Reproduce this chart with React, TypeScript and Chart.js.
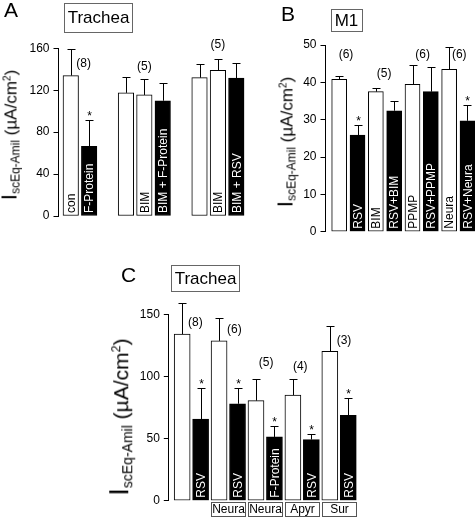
import React, { useEffect, useRef } from "react";
import { Chart, registerables } from "chart.js";

Chart.register(...registerables);

const FONT = "'Liberation Sans', Arial, Helvetica, sans-serif";

// ---------- Panel A (Trachea) ----------
const aLabels = ["con", "F-Protein", "", "", "BIM", "BIM + F-Protein", "", "", "BIM", "BIM + RSV"];
const aValues = [134, 66.5, null, 117.5, 115.5, 110, null, 132, 139, 131.5];
const aErrors = [25.5, 25.5, null, 15.5, 15.3, 17, null, 13, 11, 14.5];
const aTreated = [false, true, false, false, false, true, false, false, false, true];
const aSig = [false, true, false, false, false, false, false, false, false, false];
const aNText = ["(8)", "(5)", "(5)"];
const aNPos = [0.7, 4, 8];
const aNVal = [145, 142, 163];
const aTicks = [0, 40, 80, 120, 160];

// ---------- Panel B (M1) ----------
const bLabels = ["", "RSV", "BIM", "RSV+BIM", "PPMP", "RSV+PPMP", "Neura", "RSV+Neura"];
const bValues = [40.8, 25.9, 37.5, 32.4, 39.5, 37.5, 43.5, 29.7];
const bErrors = [1.0, 2.8, 1.0, 2.5, 5.1, 6.5, 6.0, 4.1];
const bTreated = [false, true, false, true, false, true, false, true];
const bSig = [false, true, false, false, false, false, false, true];
const bNText = ["(6)", "(5)", "(6)", "(6)"];
const bNPos = [0.37, 2.45, 4.55, 6.55];
const bNVal = [47.4, 42.3, 47.4, 47.4];
const bTicks = [0, 10, 20, 30, 40, 50];

// ---------- Panel C (Trachea) ----------
const cLabels = ["", "RSV", "", "RSV", "", "F-Protein", "", "RSV", "", "RSV"];
const cValues = [134, 65.7, 128.6, 78, 80.5, 51.3, 85, 49.2, 120.3, 68.6];
const cErrors = [25, 24.8, 18.2, 12.6, 17.3, 8.9, 13, 4.3, 20.5, 13.8];
const cTreated = [false, true, false, true, false, true, false, true, false, true];
const cSig = [false, true, false, true, false, true, false, true, false, true];
const cNText = ["(8)", "(6)", "(5)", "(4)", "(3)"];
const cNPos = [0.72, 2.83, 4.55, 6.4, 8.77];
const cNVal = [143, 137.5, 111, 108, 129];
const cGroupStart = [2, 4, 6, 8];
const cGroupLabels = ["Neura", "Neura", "Apyr", "Sur"];
const cTicks = [0, 50, 100, 150];

type PanelCfg = {
  labels: string[];
  values: (number | null)[];
  errors: (number | null)[];
  treated: boolean[];
  sig: boolean[];
  nText: string[];
  nPos: number[];
  nVal: number[];
  ticks: number[];
  groupStart?: number[];
  groupLabels?: string[];
  xMin: number;
  xMax: number;
  axisWidth: number;
  padding: { left: number; right: number; top: number; bottom: number };
  barThickness: number;
  labelSize: number;
};

const W = 475;
const H = 518;

function annotPlugin(p: PanelCfg) {
  return {
    id: "annot",
    afterDatasetsDraw(chart: any) {
      const { ctx } = chart;
      const x = chart.scales.x;
      const y = chart.scales.y;
      const y0 = y.getPixelForValue(0);
      ctx.save();
      ctx.strokeStyle = "#000";
      ctx.lineWidth = 1;
      p.values.forEach((v, i) => {
        if (v == null) return;
        const e = p.errors[i] || 0;
        const px = Math.round(x.getPixelForValue(i)) + 0.5;
        const py = y.getPixelForValue(v);
        const pe = Math.round(y.getPixelForValue(v + e)) + 0.5;
        ctx.beginPath();
        ctx.moveTo(px, py);
        ctx.lineTo(px, pe);
        ctx.moveTo(px - 4, pe);
        ctx.lineTo(px + 4, pe);
        ctx.stroke();
        if (p.sig[i]) {
          ctx.fillStyle = "#000";
          ctx.font = `12px ${FONT}`;
          ctx.textAlign = "center";
          ctx.textBaseline = "alphabetic";
          ctx.fillText("*", px, pe - 1);
        }
        const lab = p.labels[i];
        if (lab) {
          ctx.save();
          ctx.translate(x.getPixelForValue(i), y0 - 3);
          ctx.rotate(-Math.PI / 2);
          ctx.fillStyle = p.treated[i] ? "#fff" : "#000";
          ctx.font = `${p.labelSize}px ${FONT}`;
          ctx.textAlign = "left";
          ctx.textBaseline = "middle";
          ctx.fillText(lab, 0, 1);
          ctx.restore();
        }
      });
      ctx.fillStyle = "#000";
      ctx.font = `12px ${FONT}`;
      ctx.textAlign = "center";
      ctx.textBaseline = "middle";
      p.nText.forEach((t, k) => {
        ctx.fillText(t, x.getPixelForValue(p.nPos[k]), y.getPixelForValue(p.nVal[k]));
      });
      if (p.groupStart && p.groupLabels) {
        p.groupStart.forEach((s, k) => {
          const l = Math.round(x.getPixelForValue(s - 0.5)) + 1.5;
          const r = Math.round(x.getPixelForValue(s + 1.5)) - 1.5;
          const t = Math.round(y0) + 1.5;
          const b = H - 1.5;
          ctx.strokeStyle = "#555";
          ctx.strokeRect(l, t, r - l, b - t);
          ctx.fillStyle = "#000";
          ctx.font = `12px ${FONT}`;
          ctx.fillText(p.groupLabels![k], (l + r) / 2, (t + b) / 2 + 0.5);
        });
      }
      ctx.restore();
    },
  };
}

function makeChart(canvas: HTMLCanvasElement, p: PanelCfg) {
  const tickMax = p.ticks[p.ticks.length - 1];
  const step = p.ticks[1] - p.ticks[0];
  return new Chart(canvas, {
    type: "bar",
    data: {
      datasets: [
        {
          data: p.values.map((v, i) => ({ x: i, y: v })) as any,
          backgroundColor: p.treated.map((t) => (t ? "#000" : "#fff")),
          borderColor: "#000",
          borderWidth: 1,
          borderSkipped: false,
          barThickness: p.barThickness,
        },
      ],
    },
    options: {
      responsive: false,
      animation: false,
      devicePixelRatio: 1,
      layout: { padding: p.padding },
      plugins: { legend: { display: false }, tooltip: { enabled: false } },
      scales: {
        x: { type: "linear", min: p.xMin, max: p.xMax, display: false, offset: false, grid: { offset: false } },
        y: {
          min: 0,
          max: tickMax,
          afterFit: (s: any) => {
            s.width = p.axisWidth;
          },
          ticks: { stepSize: step, color: "#000", font: { family: FONT, size: 12 }, padding: 4 },
          grid: { drawOnChartArea: false, drawTicks: true, tickLength: 5, color: "#000", lineWidth: 1 },
          border: { display: true, color: "#000", width: 1 },
        },
      },
    } as any,
    plugins: [annotPlugin(p)],
  });
}

const panelA: PanelCfg = {
  labels: aLabels, values: aValues, errors: aErrors, treated: aTreated, sig: aSig,
  nText: aNText, nPos: aNPos, nVal: aNVal, ticks: aTicks,
  xMin: -0.667, xMax: 9.5, axisWidth: 58.5,
  padding: { left: 0, right: W - 245.5, top: 48.3, bottom: H - 216 },
  barThickness: 15.5, labelSize: 12,
};
const panelB: PanelCfg = {
  labels: bLabels, values: bValues, errors: bErrors, treated: bTreated, sig: bSig,
  nText: bNText, nPos: bNPos, nVal: bNVal, ticks: bTicks,
  xMin: -0.747, xMax: 7.41, axisWidth: 60.5,
  padding: { left: 265, right: 0, top: 45, bottom: H - 231.7 },
  barThickness: 15, labelSize: 12,
};
const panelC: PanelCfg = {
  labels: cLabels, values: cValues, errors: cErrors, treated: cTreated, sig: cSig,
  nText: cNText, nPos: cNPos, nVal: cNVal, ticks: cTicks,
  groupStart: cGroupStart, groupLabels: cGroupLabels,
  xMin: -0.724, xMax: 9.5, axisWidth: 68.8,
  padding: { left: 100, right: W - 357.5, top: 314.3, bottom: H - 500.7 },
  barThickness: 16, labelSize: 12,
};

function YTitle({ cx, cy, main, big, sub }: { cx: number; cy: number; main: number; big: number; sub: number }) {
  return (
    <div
      style={{
        position: "absolute",
        left: cx,
        top: cy,
        transform: "translate(-50%, -50%) rotate(-90deg)",
        whiteSpace: "nowrap",
        fontFamily: FONT,
        fontSize: main,
        lineHeight: 1,
        color: "#000",
      }}
    >
      <span style={{ fontSize: big }}>I</span>
      <sub style={{ fontSize: sub, verticalAlign: "-0.25em" }}>scEq-Amil</sub>
      <span> (µA/cm</span>
      <sup style={{ fontSize: main * 0.6, verticalAlign: "0.6em" }}>2</sup>
      <span>)</span>
    </div>
  );
}

function Letter({ x, y, t }: { x: number; y: number; t: string }) {
  return (
    <div style={{ position: "absolute", left: x, top: y, fontFamily: FONT, fontSize: 21, lineHeight: "21px", color: "#000" }}>{t}</div>
  );
}

function Box({ x, y, w, h, t }: { x: number; y: number; w: number; h: number; t: string }) {
  return (
    <div
      style={{
        position: "absolute",
        left: x,
        top: y,
        width: w,
        height: h,
        boxSizing: "border-box",
        border: "1px solid #666",
        fontFamily: FONT,
        fontSize: 17,
        display: "flex",
        alignItems: "center",
        justifyContent: "center",
        color: "#000",
      }}
    >
      {t}
    </div>
  );
}

export default function App() {
  const ra = useRef<HTMLCanvasElement>(null);
  const rb = useRef<HTMLCanvasElement>(null);
  const rc = useRef<HTMLCanvasElement>(null);
  useEffect(() => {
    const charts = [makeChart(ra.current!, panelA), makeChart(rb.current!, panelB), makeChart(rc.current!, panelC)];
    return () => charts.forEach((c) => c.destroy());
  }, []);
  const cs: React.CSSProperties = { position: "absolute", left: 0, top: 0 };
  return (
    <div style={{ position: "absolute", left: 0, top: 0, width: W, height: H, background: "#fff", overflow: "hidden" }}>
      <canvas ref={ra} width={W} height={H} style={cs} />
      <canvas ref={rb} width={W} height={H} style={cs} />
      <canvas ref={rc} width={W} height={H} style={cs} />
      <Letter x={4} y={-1} t="A" />
      <Letter x={281} y={3} t="B" />
      <Letter x={121} y={264} t="C" />
      <Box x={64} y={3} w={69} h={30} t="Trachea" />
      <Box x={330.5} y={9} w={32} h={23} t="M1" />
      <Box x={171} y={265} w={69} h={27} t="Trachea" />
      <YTitle cx={10} cy={135} main={17} big={22} sub={12} />
      <YTitle cx={286} cy={142} main={17} big={22} sub={12} />
      <YTitle cx={120} cy={417} main={21} big={27} sub={14} />
    </div>
  );
}
